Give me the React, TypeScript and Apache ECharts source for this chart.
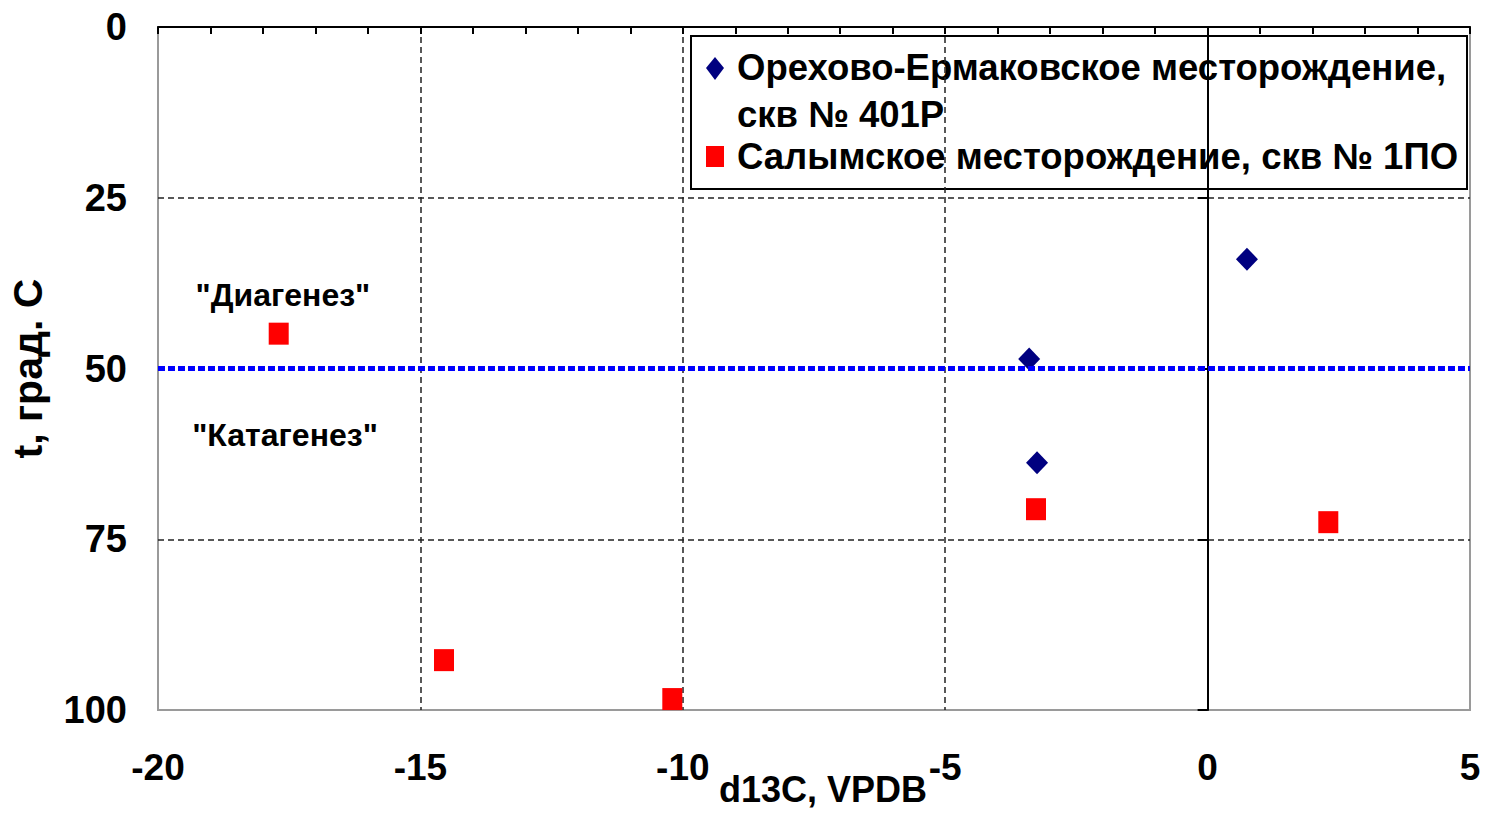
import React, { useEffect, useRef } from "react";
import * as echarts from "echarts";

const xTicks = [-20, -15, -10, -5, 0, 5];
const yTicks = [0, 25, 50, 75, 100];

const orehName = "Орехово-Ермаковское месторождение, скв № 401Р";
const orehX = [0.75, -3.4, -3.25];
const orehY = [34, 48.6, 63.8];

const salymName = "Салымское месторождение, скв № 1ПО";
const salymX = [-17.7, -14.55, -10.2, -3.27, 2.3];
const salymY = [44.9, 92.7, 98.4, 70.6, 72.5];

const zoneBoundary = 50;
const zoneLabels = ['"Диагенез"', '"Катагенез"'];
const zoneLabelX = [-17.62, -17.58];
const zoneLabelY = [39.2, 59.7];

const xTitle = "d13C, VPDB";
const yTitle = "t, град. С";

const SANS = "'Liberation Sans', Arial, sans-serif";

export default function App() {
  const ref = useRef<HTMLDivElement>(null);
  useEffect(() => {
    if (!ref.current) return;
    const chart = echarts.init(ref.current, null, { renderer: "svg" });
    const grid = { left: 158, top: 27, width: 1312, height: 683 };
    const gridLine = { show: true, showMinLine: false, showMaxLine: false, lineStyle: { color: "#222", width: 1.5, type: [6, 4] } };
    chart.setOption({
      animation: false,
      backgroundColor: "#fff",
      grid: { ...grid, outerBoundsMode: "none", containLabel: false, show: true, borderColor: "#9a9a9a", borderWidth: 2, backgroundColor: "#fff" },
      xAxis: [
        {
          type: "value", position: "bottom", min: xTicks[0], max: xTicks[xTicks.length - 1], interval: 5,
          axisLine: { onZero: false, show: false },
          axisTick: { show: false },
          axisLabel: { margin: 39, color: "#000", fontFamily: SANS, fontWeight: "bold", fontSize: 37 },
          splitLine: gridLine,
          name: xTitle, nameLocation: "middle", nameGap: 61, nameMoveOverlap: false,
          nameTextStyle: { color: "#000", fontFamily: SANS, fontWeight: "bold", fontSize: 36, padding: [0, 0, 0, 18] },
        },
        {
          type: "value", position: "top", min: xTicks[0], max: xTicks[xTicks.length - 1], interval: 5,
          axisLine: { onZero: false, show: true, lineStyle: { color: "#000", width: 2 } },
          axisTick: { show: true, inside: true, length: 7, lineStyle: { color: "#000", width: 2 } },
          minorTick: { show: true, splitNumber: 5, length: 7, lineStyle: { color: "#000", width: 2 } },
          axisLabel: { show: false },
          splitLine: { show: false },
        },
      ],
      yAxis: [
        {
          type: "value", position: "left", inverse: true, min: yTicks[0], max: yTicks[yTicks.length - 1], interval: 25,
          axisLine: { onZero: false, show: false },
          axisTick: { show: false },
          axisLabel: { margin: 31, color: "#000", fontFamily: SANS, fontWeight: "bold", fontSize: 38 },
          splitLine: gridLine,
          name: yTitle, nameLocation: "middle", nameGap: 110, nameRotate: 90, nameMoveOverlap: false,
          nameTextStyle: { color: "#000", fontFamily: SANS, fontWeight: "bold", fontSize: 41 },
        },
        {
          type: "value", position: "right", inverse: true, min: yTicks[0], max: yTicks[yTicks.length - 1], interval: 25,
          axisLine: { onZero: true, onZeroAxisIndex: 0, show: true, lineStyle: { color: "#000", width: 2 } },
          axisTick: { show: true, inside: true, length: 10, lineStyle: { color: "#000", width: 2 } },
          axisLabel: { show: false },
          splitLine: { show: false },
        },
      ],
      series: [
        {
          name: orehName, type: "scatter", symbol: "diamond", symbolSize: [22, 23],
          itemStyle: { color: "#000080", opacity: 1 }, z: 3,
          data: orehX.map((x, i) => [x, orehY[i]]),
        },
        {
          name: salymName, type: "scatter", symbol: "rect", symbolSize: [20, 22],
          itemStyle: { color: "#ff0000", opacity: 1 }, z: 3,
          data: salymX.map((x, i) => [x, salymY[i]]),
        },
        {
          name: "zones", type: "scatter", symbolSize: 0, silent: true, z: 4,
          itemStyle: { opacity: 1 },
          data: zoneLabelX.map((x, i) => ({ value: [x, zoneLabelY[i]], name: zoneLabels[i] })),
          label: {
            show: true, position: "inside", formatter: (p: any) => p.name, opacity: 1,
            color: "#000", fontFamily: SANS, fontWeight: "bold", fontSize: 32,
          },
          markLine: {
            silent: true, symbol: "none", z: 5,
            label: { show: false },
            lineStyle: { color: "#0000ff", width: 5, type: [7, 3], opacity: 1 },
            data: [{ yAxis: zoneBoundary }],
          },
        },
      ],
      graphic: [
        {
          type: "group", left: 690, top: 35, z: 100,
          children: [
            { type: "rect", shape: { x: 0, y: 0, width: 776, height: 153 }, style: { fill: "#fff", stroke: "#000", lineWidth: 2 } },
            { type: "polygon", shape: { points: [[24, 21], [33, 32], [24, 44], [15, 32]] }, style: { fill: "#000080" } },
            { type: "rect", shape: { x: 15, y: 110, width: 18, height: 21 }, style: { fill: "#ff0000" } },
            { type: "text", x: 46, y: 31, style: { text: "Орехово-Ермаковское месторождение,", fill: "#000", font: "bold 36.5px " + SANS, verticalAlign: "middle" } },
            { type: "text", x: 46, y: 78, style: { text: "скв № 401Р", fill: "#000", font: "bold 36.5px " + SANS, verticalAlign: "middle" } },
            { type: "text", x: 46, y: 120, style: { text: "Салымское месторождение, скв № 1ПО", fill: "#000", font: "bold 36.5px " + SANS, verticalAlign: "middle" } },
          ],
        },
      ],
    });
    return () => chart.dispose();
  }, []);
  return <div ref={ref} style={{ position: "fixed", left: 0, top: 0, width: 1485, height: 815 }} />;
}
